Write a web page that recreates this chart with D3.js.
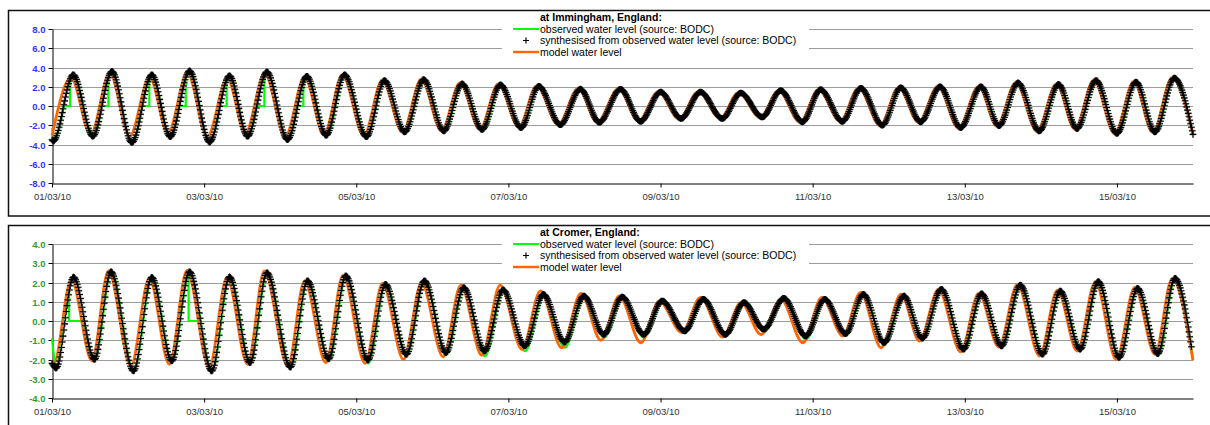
<!DOCTYPE html>
<html><head><meta charset="utf-8">
<script src="https://cdn.jsdelivr.net/npm/d3@7"></script>
<style>
body{margin:0;background:#fff}
svg{display:block}
text{font-family:"Liberation Sans",Arial,sans-serif}
</style>
</head><body>
<svg id="c" width="1210" height="425"></svg>
<script>
// ---------------- DATA ----------------
const xTickHours = [0, 48, 96, 144, 192, 240, 288, 336];
const xTickLabels = ["01/03/10","03/03/10","05/03/10","07/03/10","09/03/10","11/03/10","13/03/10","15/03/10"];
const yTicksImm = [-8, -6, -4, -2, 0, 2, 4, 6, 8];
const yTicksCro = [-4, -3, -2, -1, 0, 1, 2, 3, 4];
const titles = ["at Immingham, England:", "at Cromer, England:"];
const legendLabels = ["observed water level (source: BODC)",
  "synthesised from observed water level (source: BODC)",
  "model water level"];
const synthStepHours = 0.25;

// Immingham: [hours since 01/03/10 00:00, level (m)] at high / low waters
const immSynth = [[0,-3.5],[0.4,-3.65],[6.7,3.25],[12.9,-3.15],[18.9,3.6],[25.2,-3.8],[31.5,3.25],[37.3,-3.2],[43.4,3.65],[49.7,-3.75],[56.0,3.15],[61.7,-3.15],[67.8,3.55],[74.3,-3.5],[80.4,3.1],[86.5,-3.05],[92.3,3.25],[99.2,-3.2],[104.9,2.65],[111.3,-2.7],[117.3,2.75],[123.6,-2.6],[129.4,2.3],[135.7,-2.45],[141.5,2.2],[148.0,-2.25],[153.6,2.05],[160.4,-1.95],[166.7,1.75],[172.7,-1.7],[179.4,1.75],[185.7,-1.6],[192.0,1.45],[198.5,-1.3],[204.6,1.45],[211.5,-1.3],[217.3,1.35],[224.1,-1.15],[229.9,1.6],[236.8,-1.65],[242.5,1.7],[249.4,-1.6],[255.2,1.85],[262.0,-2.0],[267.8,1.9],[274.1,-1.65],[280.2,2.0],[286.7,-2.25],[293.1,2.0],[298.8,-2.05],[304.8,2.4],[311.5,-2.6],[317.6,2.25],[323.4,-2.35],[329.4,2.65],[336.0,-2.85],[342.0,2.5],[348.0,-2.7],[354.1,2.9],[360,-2.95]];
const immObs = [[0,-2.3],[0.8,-3.3],[6.7,3.25],[12.9,-3.15],[18.9,3.6],[25.2,-3.8],[31.5,3.25],[37.3,-3.2],[43.4,3.65],[49.7,-3.75],[56.0,3.15],[61.7,-3.15],[67.8,3.55],[74.3,-3.5],[80.4,3.1],[86.7,-3.15],[92.3,3.25],[99.3,-3.25],[104.9,2.65],[111.4,-2.75],[117.3,2.75],[123.7,-2.65],[129.4,2.3],[135.9,-2.6],[141.5,2.2],[148.2,-2.4],[153.6,2.05],[160.5,-2.0],[166.7,1.75],[172.8,-1.75],[179.4,1.75],[185.8,-1.65],[192.0,1.45],[198.6,-1.35],[204.6,1.45],[211.6,-1.35],[217.3,1.35],[224.2,-1.2],[229.9,1.6],[236.9,-1.7],[242.5,1.7],[249.5,-1.65],[255.2,1.85],[262.1,-2.05],[267.8,1.9],[274.2,-1.7],[280.2,2.0],[286.8,-2.3],[293.1,2.0],[298.9,-2.1],[304.8,2.4],[311.6,-2.65],[317.6,2.25],[323.5,-2.4],[329.4,2.65],[336.1,-2.9],[342.0,2.5],[348.1,-2.75],[354.1,2.9],[360,-3.0]];
// periods [from, to] (hours) where the observed record reads 0.0
const immObsZero = [[3.7,5.7],[15.8,17.8],[28.5,30.7],[40.2,42.2],[53.0,55.1],[64.6,67.0],[77.5,79.3]];
const immModel = [[0,-3.1],[6.0,2.95],[12.2,-3.0],[18.2,3.45],[24.5,-3.15],[30.8,3.0],[36.6,-2.85],[42.7,3.45],[49.0,-3.2],[55.3,2.9],[61.0,-2.85],[67.1,3.4],[73.6,-3.15],[79.7,3.0],[85.8,-3.0],[91.6,3.25],[98.4,-3.1],[104.2,2.7],[110.6,-2.75],[116.5,2.8],[122.9,-2.6],[128.7,2.4],[135.0,-2.45],[140.8,2.3],[147.3,-2.2],[152.9,2.1],[159.7,-1.95],[166.0,1.85],[172.0,-1.7],[178.7,1.8],[185.0,-1.55],[191.3,1.5],[197.8,-1.35],[203.9,1.5],[210.8,-1.3],[216.6,1.4],[223.4,-1.2],[229.2,1.6],[236.0,-1.7],[241.8,1.7],[248.7,-1.6],[254.5,1.9],[261.3,-2.05],[267.1,1.95],[273.4,-1.7],[279.5,2.05],[286.0,-2.3],[292.4,2.05],[298.1,-2.1],[304.1,2.45],[310.8,-2.65],[316.9,2.3],[322.7,-2.4],[328.7,2.7],[335.3,-2.9],[341.3,2.55],[347.3,-2.75],[353.4,2.95],[360,-3.0]];

// Cromer
const croSynth = [[0,-2.2],[1.3,-2.45],[6.8,2.28],[13.4,-2.0],[18.6,2.56],[25.7,-2.6],[31.5,2.27],[37.8,-2.08],[43.4,2.56],[50.4,-2.6],[56.0,2.29],[62.5,-2.17],[67.8,2.51],[75.2,-2.4],[80.6,2.09],[87.3,-1.97],[92.7,2.35],[99.7,-2.03],[105.2,1.91],[111.8,-1.74],[117.5,2.09],[124.3,-1.65],[129.9,1.74],[136.5,-1.57],[142.3,1.62],[149.2,-1.3],[155.0,1.39],[161.7,-1.1],[167.8,1.3],[174.1,-0.7],[179.9,1.25],[186.7,-0.7],[192.5,1.04],[199.6,-0.52],[205.5,1.13],[212.5,-0.7],[218.3,0.96],[224.6,-0.43],[230.9,1.18],[237.8,-0.78],[243.8,1.13],[250.4,-0.66],[256.0,1.39],[262.5,-1.13],[268.8,1.3],[274.6,-0.9],[280.6,1.65],[287.6,-1.47],[293.3,1.42],[299.6,-1.3],[305.5,1.87],[312.5,-1.73],[318.1,1.56],[324.4,-1.47],[330.1,2.05],[336.7,-1.9],[342.5,1.7],[348.9,-1.7],[354.3,2.22],[359.7,-1.55]];
const croObs = [[0,-0.9],[1.3,-2.3],[6.5,2.25],[13.5,-2.05],[18.7,2.55],[25.8,-2.6],[31.6,2.3],[37.9,-2.1],[43.4,2.55],[50.5,-2.6],[56.1,2.3],[62.6,-2.2],[67.9,2.5],[75.3,-2.4],[80.7,2.1],[87.4,-2.05],[92.8,2.35],[99.8,-2.2],[105.3,1.9],[111.9,-1.8],[117.6,2.15],[124.4,-1.75],[130.0,1.7],[136.6,-1.83],[142.4,1.6],[149.3,-1.57],[155.1,1.25],[161.8,-1.39],[167.9,1.25],[174.2,-0.87],[180.0,1.2],[186.8,-0.87],[192.6,1.0],[199.7,-0.6],[205.6,1.1],[212.6,-0.78],[218.4,0.95],[224.7,-0.56],[231.0,1.15],[237.9,-0.95],[243.9,1.1],[250.5,-0.75],[256.1,1.38],[262.6,-1.25],[268.9,1.3],[274.7,-0.95],[280.7,1.62],[287.7,-1.5],[293.4,1.4],[299.7,-1.39],[305.6,1.85],[312.6,-1.75],[318.2,1.55],[324.5,-1.5],[330.2,2.05],[336.8,-1.9],[342.6,1.68],[349.0,-1.82],[354.4,2.2],[360,-2.0]];
const croObsZero = [[5.4,9.9],[43.1,46.7]];
const croModel = [[0,-2.2],[0.5,-2.25],[6.1,2.15],[12.6,-2.08],[17.8,2.6],[24.9,-2.34],[30.7,2.24],[37.0,-2.25],[42.6,2.63],[49.6,-2.42],[55.2,2.27],[61.7,-2.25],[67.0,2.6],[74.4,-2.34],[79.7,2.09],[86.4,-2.17],[91.8,2.38],[98.8,-2.2],[104.3,1.96],[110.9,-2.0],[116.6,2.0],[123.4,-1.86],[129.0,1.86],[135.6,-1.79],[141.4,1.86],[148.3,-1.48],[154.1,1.57],[160.8,-1.39],[166.9,1.44],[173.2,-1.0],[179.0,1.3],[185.8,-1.13],[191.6,1.04],[198.7,-0.6],[204.6,1.22],[211.6,-0.83],[217.4,0.96],[223.7,-0.7],[230.0,1.13],[236.9,-1.13],[242.9,1.22],[249.5,-0.78],[255.1,1.48],[261.6,-1.39],[267.9,1.39],[273.7,-1.04],[279.7,1.65],[286.7,-1.6],[292.4,1.45],[298.7,-1.35],[304.6,1.9],[311.6,-1.82],[317.2,1.6],[323.5,-1.56],[329.2,2.05],[335.8,-2.0],[341.6,1.75],[348.0,-1.73],[353.4,2.2],[360,-2.05]];

// ---------------- DRAW ----------------
const svg = d3.select("#c");
svg.append("rect").attr("width",1210).attr("height",425).attr("fill","#fff");
const defs = svg.append("defs");

const panels = [
  {oy:0, title:titles[0], yTicks:yTicksImm, tickColor:"#3333ff", synth:immSynth, obs:immObs, obsZero:immObsZero, model:immModel},
  {oy:215, title:titles[1], yTicks:yTicksCro, tickColor:"#339933", synth:croSynth, obs:croObs, obsZero:croObsZero, model:croModel}
];

// capture the segments that d3's monotone curve produces, to find the curve's y at a given x
function curveSampler(line, data){
  const segs = []; let cx = 0, cy = 0;
  const ctx = {
    moveTo(x,y){ cx=x; cy=y; },
    lineTo(x,y){ segs.push([cx,cy,cx,cy,x,y,x,y]); cx=x; cy=y; },
    bezierCurveTo(a,b,c,d,e,f){ segs.push([cx,cy,a,b,c,d,e,f]); cx=e; cy=f; },
    closePath(){}
  };
  line.context(ctx)(data); line.context(null);
  return function(px){
    let s = segs[0];
    if(px <= s[0]) return s[1];
    for(let i=0;i<segs.length;i++){ if(px <= segs[i][6]){ s = segs[i]; break; } s = segs[i]; }
    if(px >= s[6]) return s[7];
    const t = (px - s[0])/(s[6]-s[0]), u = 1-t;
    return u*u*u*s[1] + 3*u*u*t*s[3] + 3*u*t*t*s[5] + t*t*t*s[7];
  };
}

panels.forEach((p,idx)=>{
  const g = svg.append("g").attr("transform",`translate(0,${p.oy})`);
  g.append("rect").attr("x",8.5).attr("y",10.5).attr("width",1215).attr("height",205.5)
    .attr("fill","#fff").attr("stroke","#111").attr("stroke-width",1.5);

  const x = d3.scaleLinear().domain([0,360]).range([52,1193]);
  const y = d3.scaleLinear().domain([p.yTicks[0], p.yTicks[p.yTicks.length-1]]).range([183,29]);

  // gridlines
  g.append("g").selectAll("line").data(p.yTicks.slice(1)).join("line")
    .attr("x1",52).attr("x2",1193)
    .attr("y1",d=>Math.round(y(d))+0.5).attr("y2",d=>Math.round(y(d))+0.5)
    .attr("stroke","#9c9c9c").attr("stroke-width",1.1);

  // legend background
  g.append("rect").attr("x",502).attr("y",12).attr("width",307).attr("height",50).attr("fill","#fff");

  // axes
  const ya = g.append("g").attr("transform","translate(52.5,0)")
    .call(d3.axisLeft(y).tickValues(p.yTicks).tickFormat(d=>d.toFixed(1)).tickSize(4).tickSizeOuter(0).tickPadding(3));
  ya.selectAll("text").attr("fill",p.tickColor).attr("font-weight","bold").attr("font-size","9.5px")
    .attr("font-family","Liberation Sans, Arial, sans-serif");
  ya.selectAll("line,path").attr("stroke","#000");
  ya.selectAll(".tick").attr("transform",d=>`translate(0,${Math.round(y(d))+0.5})`);

  const xa = g.append("g").attr("transform","translate(0,183.5)")
    .call(d3.axisBottom(x).tickValues(xTickHours).tickFormat((d,i)=>xTickLabels[i]).tickSize(4).tickSizeOuter(0).tickPadding(6));
  xa.selectAll("text").attr("fill","#333").attr("font-size","9.5px").attr("font-family","Liberation Sans, Arial, sans-serif");
  xa.selectAll("line,path").attr("stroke","#000");

  const line = d3.line().x(d=>x(d[0])).y(d=>y(d[1])).curve(d3.curveMonotoneX);

  // observed: curve with zero-valued periods
  const cid = "obsclip"+idx;
  const cp = defs.append("clipPath").attr("id",cid);
  let prev = 0;
  p.obsZero.forEach(([a,b])=>{
    const x0 = prev===0 ? x(0)-10 : x(prev);
    cp.append("rect").attr("x",x0).attr("y",-100).attr("width",x(a)-x0).attr("height",600);
    prev = b;
  });
  cp.append("rect").attr("x",x(prev)).attr("y",-100).attr("width",x(360)-x(prev)+10).attr("height",600);
  g.append("path").datum(p.obs).attr("d",line).attr("fill","none")
    .attr("stroke","#00ff00").attr("stroke-width",2.2).attr("clip-path",`url(#${cid})`);
  const obsY = curveSampler(line, p.obs);
  const zline = d3.line();
  p.obsZero.forEach(([a,b])=>{
    const pts = [[x(a),obsY(x(a))],[x(a),y(0)],[x(b),y(0)],[x(b),obsY(x(b))]];
    g.append("path").attr("d",zline(pts)).attr("fill","none").attr("stroke","#00ff00").attr("stroke-width",2.2);
  });

  // model
  g.append("path").datum(p.model).attr("d",line).attr("fill","none")
    .attr("stroke","#ff6600").attr("stroke-width",2.8);

  // synthesised: '+' markers every 15 minutes along the series
  const synY = curveSampler(line, p.synth);
  const h0 = p.synth[0][0], h1 = p.synth[p.synth.length-1][0];
  let md = "";
  for(let h=h0; h<=h1+1e-9; h+=synthStepHours){
    const px = x(h), py = synY(px);
    md += `M${(px-3.3).toFixed(2)},${py.toFixed(2)}h6.6M${px.toFixed(2)},${(py-3.3).toFixed(2)}v6.6`;
  }
  g.append("path").attr("d",md).attr("fill","none").attr("stroke","#8a8a8a").attr("stroke-width",2.2).attr("opacity",0.55);
  g.append("path").attr("d",md).attr("fill","none").attr("stroke","#000").attr("stroke-width",1.1);

  // legend
  const lg = g.append("g").attr("font-size","10.5px").attr("fill","#000");
  lg.append("text").attr("x",540).attr("y",20.5).attr("font-weight","bold").text(p.title);
  lg.append("line").attr("x1",513).attr("x2",539).attr("y1",29).attr("y2",29).attr("stroke","#00ff00").attr("stroke-width",2);
  lg.append("text").attr("x",540).attr("y",32.5).text(legendLabels[0]);
  lg.append("path").attr("d","M523,40.5h6M526,37.5v6").attr("stroke","#000").attr("stroke-width",1.2);
  lg.append("text").attr("x",540).attr("y",44.2).text(legendLabels[1]);
  lg.append("line").attr("x1",513).attr("x2",539).attr("y1",52).attr("y2",52).attr("stroke","#ff6600").attr("stroke-width",2.4);
  lg.append("text").attr("x",540).attr("y",55.8).text(legendLabels[2]);
});
</script>
</body></html>
